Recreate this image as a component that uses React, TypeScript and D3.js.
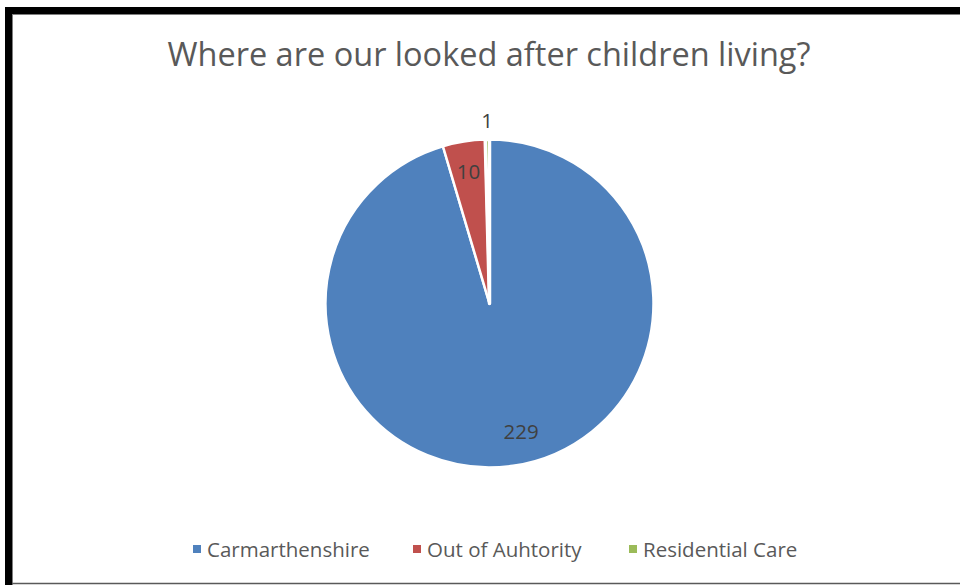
import React from "react";
import * as d3 from "d3";

const categories = ["Carmarthenshire", "Out of Auhtority", "Residential Care"];
const values = [229, 10, 1];
const colors = ["#4F81BD", "#C0504D", "#9BBB59"];
const title = "Where are our looked after children living?";

const W = 960;
const H = 585;
const cx = 489.5;
const cy = 303.5;
const R = 164;
const FONT = "'Open Sans', 'Noto Sans', sans-serif";

export default function App() {
  const pie = d3.pie<number>().sort(null).value((d) => d)(values);
  const arc = d3.arc<d3.PieArcDatum<number>>().innerRadius(0).outerRadius(R);
  // label positions (Excel best-fit style): radius fraction and angle tweak
  const labelR = [0.8, 0.82, 1.12];
  const labelShift = [-0.1, 0, 0];
  const labelPos = (i: number, a: d3.PieArcDatum<number>): [number, number] => {
    const mid = (a.startAngle + a.endAngle) / 2 + labelShift[i];
    const rr = R * labelR[i];
    return [cx + Math.sin(mid) * rr, cy - Math.cos(mid) * rr];
  };
  const legendX = [193, 413, 629];
  return (
    <svg
      width={W}
      height={H}
      style={{ position: "absolute", left: 0, top: 0, background: "#fff" }}
    >
      <rect x={0} y={0} width={W} height={H} fill="#fff" />
      {/* frame */}
      <rect x={5} y={7} width={7} height={H - 7} fill="#000" />
      <rect x={5} y={7} width={W - 5} height={7} fill="#000" />
      <line x1={12} x2={W} y1={14.5} y2={14.5} stroke="#7f7f7f" strokeWidth={1} />
      <line x1={12.5} x2={12.5} y1={14} y2={H} stroke="#7f7f7f" strokeWidth={1} />
      <line x1={12} x2={W} y1={583.5} y2={583.5} stroke="#595959" strokeWidth={1.5} />

      <text
        x={489}
        y={66}
        textAnchor="middle"
        fontFamily={FONT}
        fontSize={32.5}
        fill="#595959"
      >
        {title}
      </text>

      <g transform={`translate(${cx},${cy})`}>
        {pie.map((a, i) => (
          <path
            key={i}
            d={arc(a) || ""}
            fill={colors[i]}
            stroke="#fff"
            strokeWidth={i === 2 ? 3.5 : 2.5}
            strokeLinejoin="round"
          />
        ))}
      </g>

      {pie.map((a, i) => {
        const [x, y] = labelPos(i, a);
        return (
          <text
            key={i}
            x={x}
            y={y}
            textAnchor="middle"
            dominantBaseline="central"
            fontFamily={FONT}
            fontSize={20.5}
            fill="#404040"
          >
            {values[i]}
          </text>
        );
      })}

      {categories.map((c, i) => (
        <g key={c}>
          <rect x={legendX[i]} y={545} width={8} height={8} fill={colors[i]} />
          <text
            x={legendX[i] + 14}
            y={556.5}
            fontFamily={FONT}
            fontSize={20.5}
            fill="#595959"
          >
            {c}
          </text>
        </g>
      ))}
    </svg>
  );
}
